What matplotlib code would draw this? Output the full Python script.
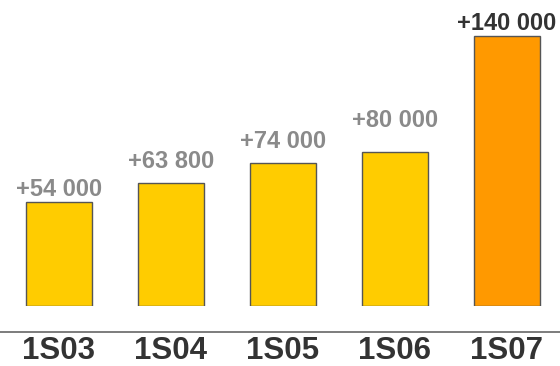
import matplotlib.pyplot as plt
from matplotlib.lines import Line2D

categories = ['1S03', '1S04', '1S05', '1S06', '1S07']
values = [54000, 63800, 74000, 80000, 140000]
labels = ['+54 000', '+63 800', '+74 000', '+80 000', '+140 000']
colors = ['#FFCC00', '#FFCC00', '#FFCC00', '#FFCC00', '#FF9900']
label_colors = ['#8a8a8a', '#8a8a8a', '#8a8a8a', '#8a8a8a', '#333333']
label_gap_px = [6, 15, 15, 25, 6]  # ecart etiquette / haut de barre

plt.rcParams['font.family'] = ['Liberation Sans', 'DejaVu Sans']

fig = plt.figure(figsize=(5.6, 3.66), dpi=100)
ax = fig.add_axes([0, 60 / 366, 1, 306 / 366])
pos = list(range(len(categories)))
bars = ax.bar(pos, values, width=0.59, color=colors, edgecolor='#555555', linewidth=1)
for b, lab, c, g in zip(bars, labels, label_colors, label_gap_px):
    ax.annotate(lab, (b.get_x() + b.get_width() / 2, b.get_height()),
                xytext=(0, g * 0.72), textcoords='offset points', ha='center', va='baseline',
                fontsize=17, fontweight='bold', color=c)
ax.set_xlim(-59 / 112, 501 / 112)
ax.set_ylim(0, 306 / 270 * 140000)
ax.axis('off')

# ligne de base + libelles
fig.add_artist(Line2D([0, 1], [(366 - 332) / 366] * 2, color='#666666', lw=1.2))
for i, cat in enumerate(categories):
    xf = (59 + 112 * i) / 560
    fig.text(xf, (366 - 351) / 366, cat, ha='center', va='center',
             fontsize=22.5, fontweight='bold', color='#333333')

fig.savefig('out.png', dpi=100)
